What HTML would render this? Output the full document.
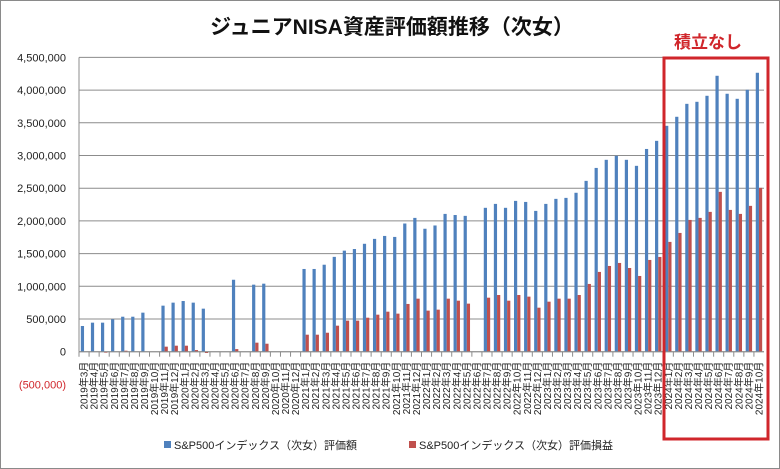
<!DOCTYPE html>
<html><head><meta charset="utf-8"><style>
html,body{margin:0;padding:0;background:#fff}
svg{display:block;font-family:"Liberation Sans","Noto Sans CJK JP",sans-serif}
</style></head><body>
<svg id="chart" width="780" height="469" viewBox="0 0 780 469" xmlns="http://www.w3.org/2000/svg">
<rect x="0.5" y="0.5" width="779" height="468" fill="#fff" stroke="#8a8a8a"/>
<text x="392" y="34" text-anchor="middle" font-size="21" font-weight="bold" fill="#111">ジュニアNISA資産評価額推移（次女）</text>
<g id="grid"></g>
<g id="yaxis"></g>
<g id="bars"></g>
<g id="xaxis"></g>
<rect x="664" y="58" width="104" height="381" fill="none" stroke="#d0262b" stroke-width="3"/>
<text x="708" y="48" text-anchor="middle" font-size="17" font-weight="bold" fill="#d0262b">積立なし</text>
<g>
<rect x="164" y="441" width="7" height="7" fill="#4f81bd"/>
<text x="174" y="449" font-size="11" fill="#222">S&amp;P500インデックス（次女）評価額</text>
<rect x="409" y="441" width="7" height="7" fill="#c0504d"/>
<text x="419" y="449" font-size="11" fill="#222">S&amp;P500インデックス（次女）評価損益</text>
</g>
</svg>
<script>
const yTicks = [-500000,0,500000,1000000,1500000,2000000,2500000,3000000,3500000,4000000,4500000];
const startYear = 2019, startMonth = 3, nMonths = 68;
const valueSeries = [393000,444000,444000,495000,535000,535000,597000,null,704000,750000,775000,750000,658000,null,null,1100000,null,1025000,1040000,null,null,null,1265000,1265000,1330000,1450000,1545000,1570000,1650000,1725000,1770000,1755000,1960000,2046000,1880000,1930000,2107000,2090000,2077000,null,2200000,2260000,2200000,2306000,2290000,2153000,2260000,2337000,2352000,2430000,2612000,2810000,2934000,2995000,2934000,2842000,3100000,3224000,3454000,3592000,3790000,3821000,3913000,4219000,3944000,3867000,4005000,4265000];
const gainSeries = [0,0,-15000,0,15000,0,0,null,77000,92000,92000,25000,-20000,null,null,40000,null,138000,122000,null,null,null,260000,260000,290000,398000,475000,475000,520000,566000,612000,582000,730000,811000,628000,643000,811000,780000,735000,null,826000,867000,780000,867000,842000,673000,765000,811000,811000,867000,1036000,1220000,1311000,1357000,1280000,1158000,1403000,1449000,1679000,1816000,2015000,2046000,2138000,2444000,2168000,2107000,2230000,2505000];
const categories = [];
for (let i=0;i<nMonths;i++){const m=startMonth-1+i;categories.push((startYear+Math.floor(m/12))+'年'+(m%12+1)+'月');}

const NS='http://www.w3.org/2000/svg';
const X0=79, X1=764, Y0=351.7, PX=32.7/500000;
const y=v=>Y0-v*PX;
const bw=(X1-X0)/categories.length;
const xg=i=>X0+i*bw;
function mk(tag,attrs,parent){const e=document.createElementNS(NS,tag);for(const k in attrs)e.setAttribute(k,attrs[k]);parent.appendChild(e);return e;}
const grid=document.getElementById('grid'),yax=document.getElementById('yaxis'),bars=document.getElementById('bars'),xax=document.getElementById('xaxis');
const fmt=v=>{const s=Math.abs(v).toLocaleString('en-US');return v<0?'('+s+')':s;};
yTicks.forEach(t=>{
  if(t>=0){const l=mk('line',{x1:X0,x2:X1,y1:y(t),y2:y(t),stroke:'#8c8c8c','stroke-width':1},grid);
  
  }
  const tx=mk('text',{x:66,y:y(t)+4,'text-anchor':'end','font-size':11,fill:t<0?'#d0262b':'#222'},yax);
  tx.textContent=fmt(t);
  
  
});
const ax=mk('line',{x1:X0,x2:X0,y1:y(4500000),y2:y(0),stroke:'#8c8c8c'},yax);


const barW=3.2;
categories.forEach((c,i)=>{
  const v=valueSeries[i],g=gainSeries[i];
  const bx=xg(i)+bw*0.5-barW;
  if(v!=null){const r=mk('rect',{x:bx,y:y(v),width:barW,height:y(0)-y(v),fill:'#4f81bd'},bars);
    
    }
  if(g!=null&&g!==0){const top=Math.min(y(g),y(0)),h=Math.abs(y(g)-y(0));
    const r=mk('rect',{x:bx+barW,y:top,width:barW,height:Math.max(h,1),fill:'#c0504d'},bars);
    
    }
  const tk=mk('line',{x1:xg(i),x2:xg(i),y1:Y0,y2:Y0+5,stroke:'#8c8c8c'},xax);
  
  
  const cx=xg(i)+bw/2+3.5;
  const t=mk('text',{x:0,y:0,transform:`translate(${cx},${Y0+10}) rotate(-90)`,'text-anchor':'end','font-size':10,fill:'#222'},xax);
  t.textContent=c;
  
  
});
const xl=mk('line',{x1:X0,x2:X1,y1:Y0,y2:Y0,stroke:'#8c8c8c'},xax);


</script>
</body></html>
